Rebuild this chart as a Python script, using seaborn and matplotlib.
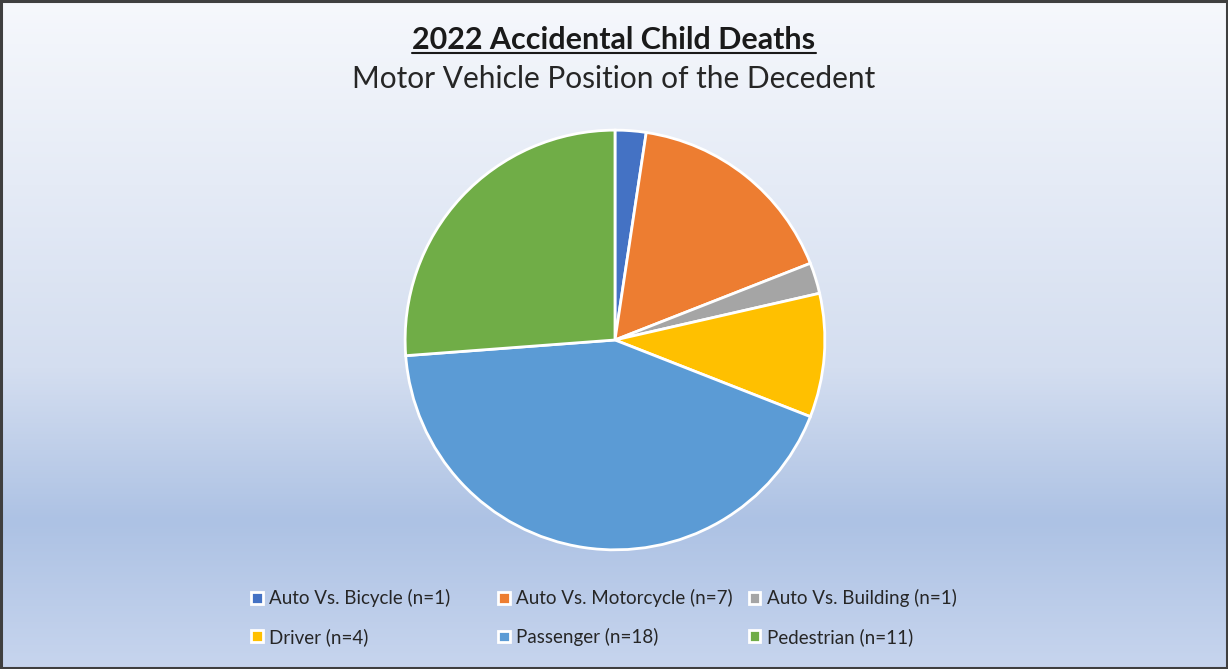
import matplotlib

matplotlib.use("Agg")
import matplotlib.pyplot as plt
import numpy as np
import seaborn as sns
from matplotlib.colors import LinearSegmentedColormap
from matplotlib.lines import Line2D
from matplotlib.patches import Rectangle

sns.set_theme(style="white")
plt.rcParams["font.family"] = ["Lato", "DejaVu Sans"]

# data
categories = [
    "Auto Vs. Bicycle",
    "Auto Vs. Motorcycle",
    "Auto Vs. Building",
    "Driver",
    "Passenger",
    "Pedestrian",
]
counts = [1, 7, 1, 4, 18, 11]
colors = ["#4472C4", "#ED7D31", "#A5A5A5", "#FFC000", "#5B9BD5", "#70AD47"]

labels = [f"{c} (n={n})" for c, n in zip(categories, counts)]

fig = plt.figure(figsize=(12.28, 6.69), dpi=100)

# background gradient (light at top, blue toward bottom)
bg = fig.add_axes([0, 0, 1, 1], zorder=-10)
grad_cmap = LinearSegmentedColormap.from_list(
    "bg", [(0.0, "#f6f8fc"), (0.55, "#d4def0"), (0.78, "#adc2e4"), (1.0, "#c7d5ee")]
)
grad = np.linspace(0, 1, 256).reshape(-1, 1)
bg.imshow(grad, aspect="auto", cmap=grad_cmap, extent=[0, 1, 0, 1], origin="upper")
bg.set_axis_off()

# pie
ax = fig.add_axes([0.5008 - 0.1726, 0.4918 - 0.3169, 0.3452, 0.6338])
wedges, _ = ax.pie(
    counts,
    colors=colors,
    startangle=90,
    counterclock=False,
    wedgeprops=dict(edgecolor="white", linewidth=2),
)
ax.set_xlim(-1.01, 1.01)
ax.set_ylim(-1.01, 1.01)
ax.set_aspect("equal")

# titles
t1 = fig.text(0.5, 0.940, "2022 Accidental Child Deaths", ha="center", va="center",
              fontsize=22, fontweight="bold", color="#1a1a1a")
fig.text(0.5, 0.882, "Motor Vehicle Position of the Decedent", ha="center", va="center",
         fontsize=21.5, color="#262626")

fig.canvas.draw()
bb = t1.get_window_extent().transformed(fig.transFigure.inverted())
fig.add_artist(Line2D([bb.x0, bb.x1], [bb.y0 + 0.001, bb.y0 + 0.001],
                      color="#1a1a1a", linewidth=1.5))

# legend laid out in three equal columns, filled row by row
col_x = [0.2047, 0.4058, 0.6098]
for i, x in enumerate(col_x):
    idx = [i, i + 3]
    fig.legend(
        [wedges[j] for j in idx],
        [labels[j] for j in idx],
        loc="upper left",
        bbox_to_anchor=(x, 0.119),
        frameon=False,
        fontsize=13.5,
        handlelength=0.6,
        handleheight=0.6,
        handletextpad=0.35,
        labelspacing=1.1,
        borderaxespad=0,
        borderpad=0,
        labelcolor="#262626",
    )

# outer border
fig.add_artist(Rectangle((0.001, 0.002), 0.998, 0.996, transform=fig.transFigure,
                         fill=False, edgecolor="#3f3f3f", linewidth=2.2))

fig.savefig("out.png", dpi=100)
